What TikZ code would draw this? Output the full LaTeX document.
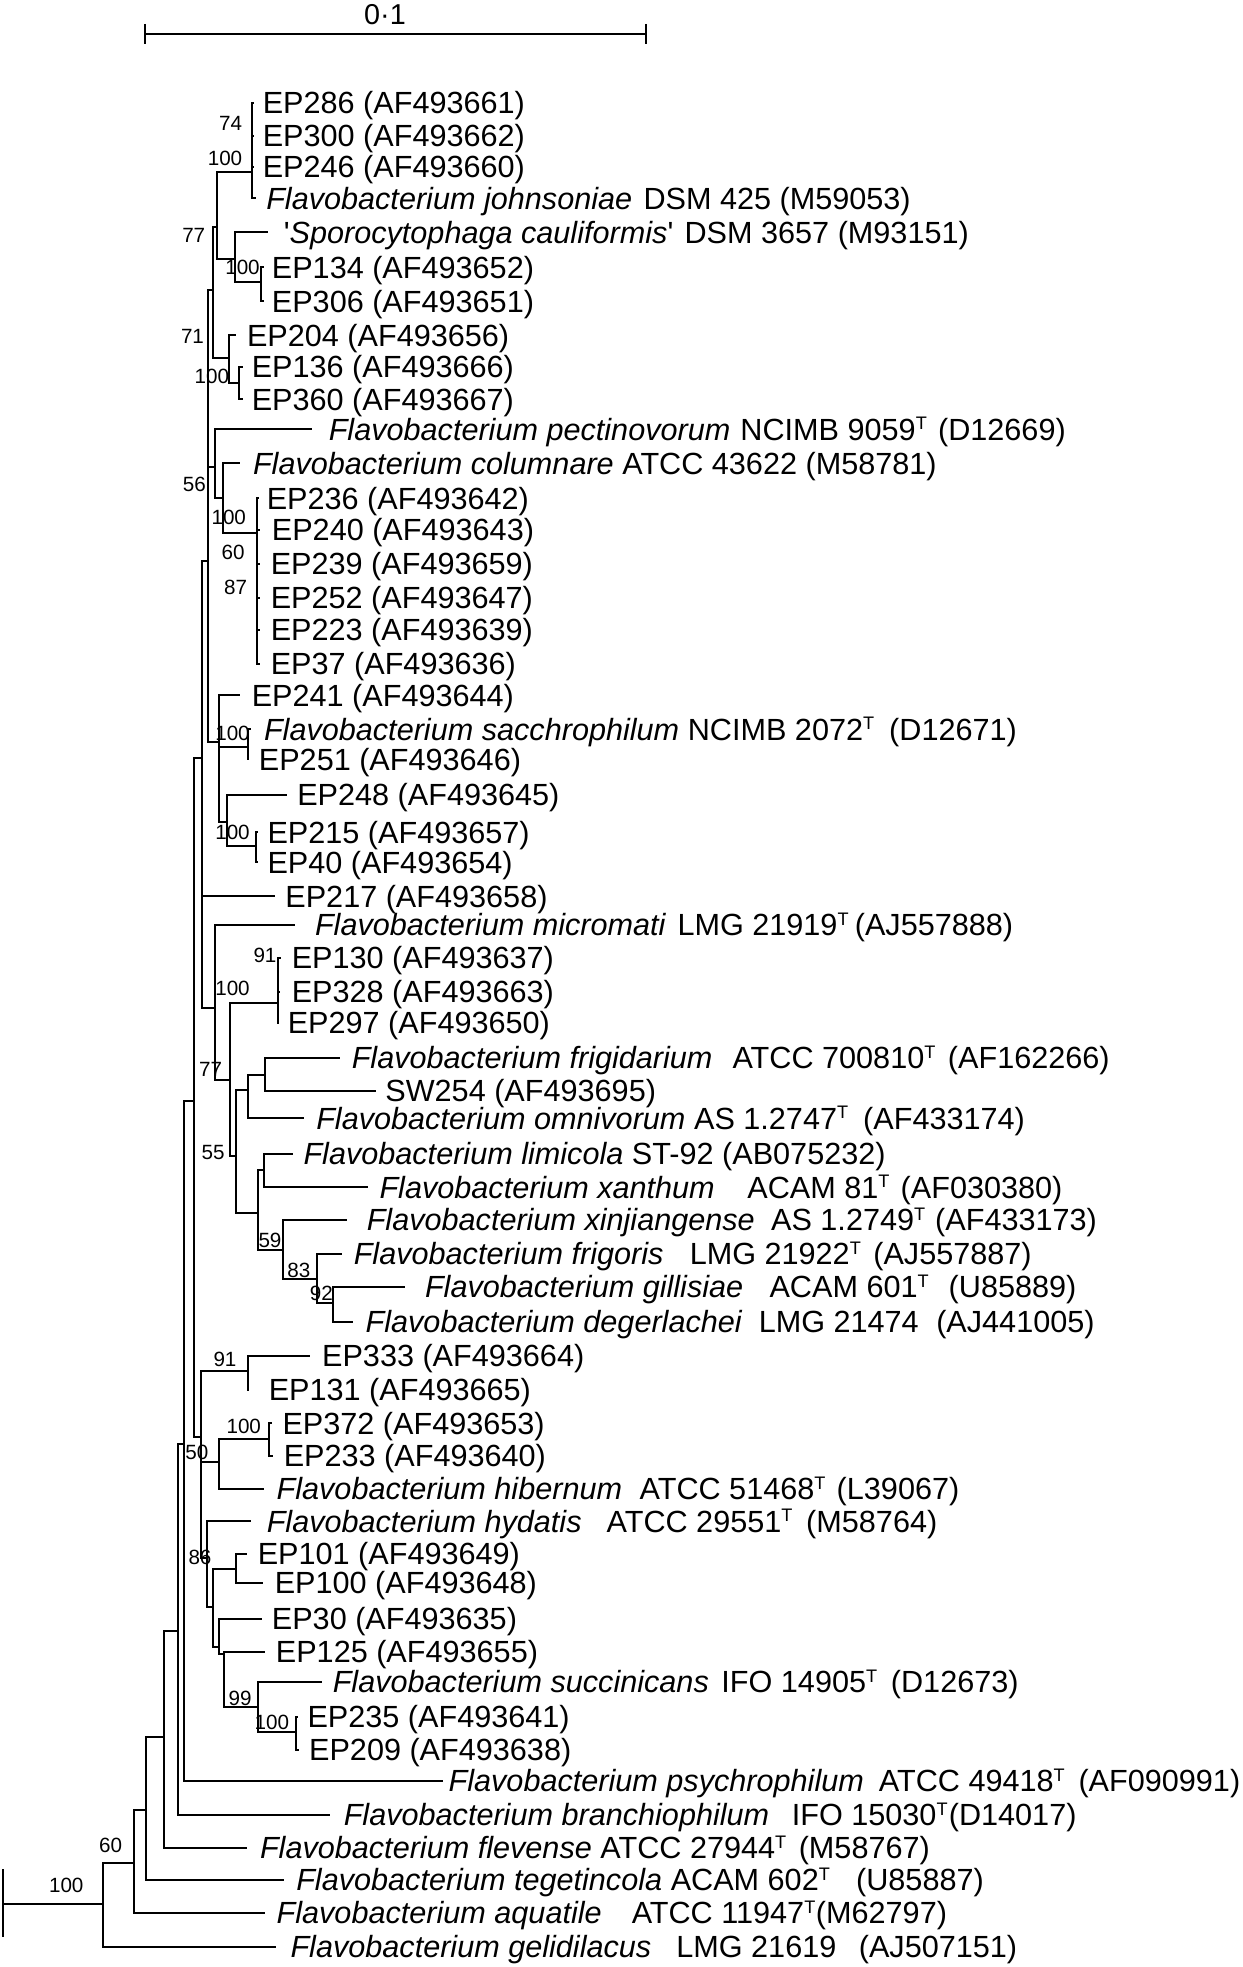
\documentclass[tikz,border=0pt]{standalone}
\usepackage{fontspec}
\setmainfont{Liberation Sans}
\newcommand\supT{\raisebox{8.2pt}{\fontsize{14.5}{14.5}\selectfont T}}
\newcommand\leaf[5]{\coordinate (t#1) at (#2,#3); \node[lab] (l#1) at (#4,#3) {#5};}
\newcommand\edge[2]{\draw (#1) |- (#2);}
\newcommand\bsv[4]{\node[bs] (#1) at (#2,#3) {#4};}
\begin{document}
\begin{tikzpicture}[x=1pt,y=-1pt,line width=1.6pt,
  lab/.style={anchor=west,inner sep=0pt,outer sep=0pt,font=\fontsize{24.5}{28}\selectfont,text height=17.55pt,text depth=0pt},
  bs/.style={inner sep=0pt,outer sep=0pt,font=\fontsize{16.5}{18}\selectfont,text height=11.8pt,text depth=0pt}]
\useasboundingbox (0,0) rectangle (994.4,1573.6);
\begin{scope}[yscale=1.004]
% scale bar
\coordinate (sb1) at (116,27); \coordinate (sb2) at (517,27);
\coordinate (sb1a) at (116,19); \coordinate (sb1b) at (116,35);
\coordinate (sb2a) at (517,19); \coordinate (sb2b) at (517,35);
\draw (sb1) -- (sb2); \draw (sb1a) -- (sb1b); \draw (sb2a) -- (sb2b);
\node[inner sep=0pt,font=\fontsize{23}{25}\selectfont] (sblab) at (308,12) {0·1};

% leaves
\leaf{1}{203.5}{82}{210.2}{EP286 (AF493661)}
\leaf{2}{203.5}{108}{210.2}{EP300 (AF493662)}
\leaf{3}{203.5}{133}{210.2}{EP246 (AF493660)}
\leaf{4}{204.5}{158}{213}{\textit{Flavobacterium johnsoniae}\hspace{9pt}DSM 425 (M59053)}
\leaf{5}{214.4}{185}{227}{\textquotesingle\textit{Sporocytophaga cauliformis}\textquotesingle\hspace{9pt}DSM 3657 (M93151)}
\leaf{6}{211}{213}{217.5}{EP134 (AF493652)}
\leaf{7}{211}{240}{217.5}{EP306 (AF493651)}
\leaf{8}{189}{267}{197.6}{EP204 (AF493656)}
\leaf{9}{194}{292}{201.4}{EP136 (AF493666)}
\leaf{10}{194}{318}{201.4}{EP360 (AF493667)}
\leaf{11}{249.8}{342}{263}{\textit{Flavobacterium pectinovorum}\hspace{8pt}NCIMB 9059\supT\hspace{9pt}(D12669)}
\leaf{12}{191.9}{369}{202.4}{\textit{Flavobacterium columnare} ATCC 43622 (M58781)}
\leaf{13}{207.5}{397}{213.4}{EP236 (AF493642)}
\leaf{14}{208}{422}{217.5}{EP240 (AF493643)}
\leaf{15}{208}{449}{216.6}{EP239 (AF493659)}
\leaf{16}{208}{476}{216.6}{EP252 (AF493647)}
\leaf{17}{208}{502}{216.6}{EP223 (AF493639)}
\leaf{18}{208}{529}{216.6}{EP37 (AF493636)}
\leaf{19}{191.9}{554}{201.4}{EP241 (AF493644)}
\leaf{20}{201}{581}{211.2}{\textit{Flavobacterium sacchrophilum} NCIMB 2072\supT\hspace{12pt}(D12671)}
\leaf{21}{199.5}{605}{207.1}{EP251 (AF493646)}
\leaf{22}{229.2}{633}{237.8}{EP248 (AF493645)}
\leaf{23}{206.5}{663}{214}{EP215 (AF493657)}
\leaf{24}{206.5}{687}{214}{EP40 (AF493654)}
\leaf{25}{219.8}{714}{228.3}{EP217 (AF493658)}
\leaf{26}{235.6}{737}{252}{\textit{Flavobacterium micromati}\hspace{9pt}LMG 21919\supT\hspace{5pt}(AJ557888)}
\leaf{27}{225}{763}{233.4}{EP130 (AF493637)}
\leaf{28}{224}{790}{233.4}{EP328 (AF493663)}
\leaf{29}{223}{815}{230.2}{EP297 (AF493650)}
\leaf{30}{271.9}{843}{281.4}{\textit{Flavobacterium frigidarium}\hspace{16pt}ATCC 700810\supT\hspace{10pt}(AF162266)}
\leaf{31}{300.4}{869}{308.3}{SW254 (AF493695)}
\leaf{32}{243.5}{891}{253}{\textit{Flavobacterium omnivorum} AS 1.2747\supT\hspace{12pt}(AF433174)}
\leaf{33}{234}{919}{242.8}{\textit{Flavobacterium limicola} ST-92 (AB075232)}
\leaf{34}{294}{946}{303.6}{\textit{Flavobacterium xanthum}\hspace{26pt}ACAM 81\supT\hspace{9pt}(AF030380)}
\leaf{35}{277.6}{972}{293.4}{\textit{Flavobacterium xinjiangense}\hspace{13pt}AS 1.2749\supT\hspace{8pt}(AF433173)}
\leaf{36}{273.5}{999}{283}{\textit{Flavobacterium frigoris}\hspace{21pt}LMG 21922\supT\hspace{10pt}(AJ557887)}
\leaf{37}{324.1}{1025}{340}{\textit{Flavobacterium gillisiae}\hspace{21pt}ACAM 601\supT\hspace{16pt}(U85889)}
\leaf{38}{282.4}{1053}{292.5}{\textit{Flavobacterium degerlachei}\hspace{13pt}LMG 21474\hspace{14pt}(AJ441005)}
\leaf{39}{248.2}{1080}{257.7}{EP333 (AF493664)}
\leaf{40}{199.5}{1107}{215}{EP131 (AF493665)}
\leaf{41}{217.5}{1134}{226}{EP372 (AF493653)}
\leaf{42}{218.5}{1160}{227}{EP233 (AF493640)}
\leaf{43}{211}{1186}{221.3}{\textit{Flavobacterium hibernum}\hspace{14pt}ATCC 51468\supT\hspace{9pt}(L39067)}
\leaf{44}{200.8}{1212}{213.4}{\textit{Flavobacterium hydatis}\hspace{20pt}ATCC 29551\supT\hspace{11pt}(M58764)}
\leaf{45}{197.6}{1238}{206.2}{EP101 (AF493649)}
\leaf{46}{210.3}{1261}{219.8}{EP100 (AF493648)}
\leaf{47}{209.3}{1290}{217.5}{EP30 (AF493635)}
\leaf{48}{211.9}{1316}{220.7}{EP125 (AF493655)}
\leaf{49}{257.7}{1340}{266.2}{\textit{Flavobacterium succinicans}\hspace{10pt}IFO 14905\supT\hspace{11pt}(D12673)}
\leaf{50}{238.5}{1368}{246}{EP235 (AF493641)}
\leaf{51}{239}{1394}{247.3}{EP209 (AF493638)}
\leaf{52}{354.1}{1419}{358.9}{\textit{Flavobacterium psychrophilum}\hspace{12pt}ATCC 49418\supT\hspace{11pt}(AF090991)}
\leaf{53}{264}{1446}{275}{\textit{Flavobacterium branchiophilum}\hspace{18pt}IFO 15030\supT\hspace{1pt}(D14017)}
\leaf{54}{197.6}{1472}{208}{\textit{Flavobacterium flevense} ATCC 27944\supT\hspace{10pt}(M58767)}
\leaf{55}{227}{1498}{237}{\textit{Flavobacterium tegetincola} ACAM 602\supT\hspace{21pt}(U85887)}
\leaf{56}{212}{1524}{221.3}{\textit{Flavobacterium aquatile}\hspace{24pt}ATCC 11947\supT\hspace{0.5pt}(M62797)}
\leaf{57}{221}{1551}{232.4}{\textit{Flavobacterium gelidilacus}\hspace{20pt}LMG 21619\hspace{18pt}(AJ507151)}

% internal nodes
\coordinate (A201) at (201.4,137);
\coordinate (S173) at (173.3,181);
\coordinate (SP188) at (188.1,206);
\coordinate (E134) at (208.7,225);
\coordinate (S171) at (170.7,231);
\coordinate (E204) at (183.4,285);
\coordinate (E136) at (191.3,305);
\coordinate (N166) at (166,447);
\coordinate (P172) at (171.7,372);
\coordinate (C179) at (178.6,397);
\coordinate (E236) at (205.5,425);
\coordinate (X175) at (174.9,591);
\coordinate (SA198) at (198.3,595);
\coordinate (E248) at (181.2,655);
\coordinate (E215) at (204.9,674);
\coordinate (X161) at (161.3,604);
\coordinate (M172) at (171.7,803);
\coordinate (Q184) at (184.3,860);
\coordinate (E130) at (222,799);
\coordinate (W189) at (188.8,921);
\coordinate (F198) at (198.3,868);
\coordinate (FS212) at (211.9,856);
\coordinate (L206) at (206.2,966);
\coordinate (LX211) at (211.2,932);
\coordinate (X226) at (226.1,996);
\coordinate (FR254) at (253.9,1019);
\coordinate (G267) at (266.6,1038);
\coordinate (X155) at (155,877);
\coordinate (X160) at (160.5,1145);
\coordinate (E333) at (198.3,1092);
\coordinate (N175) at (174.9,1165);
\coordinate (E372) at (215,1146);
\coordinate (H165) at (165.4,1241);
\coordinate (K171) at (170.7,1280);
\coordinate (E101) at (188.8,1250);
\coordinate (E30) at (175.5,1312);
\coordinate (S179) at (179.3,1318);
\coordinate (SU206) at (206.2,1360);
\coordinate (E235) at (236.5,1380);
\coordinate (PS) at (147,1150);
\coordinate (BR) at (142.3,1299);
\coordinate (FL) at (131.2,1384);
\coordinate (TG) at (117,1442);
\coordinate (AQ) at (106.9,1484);
\coordinate (G82) at (82.2,1517);
\coordinate (root) at (2.5,1517);
\coordinate (rt1) at (2.5,1489);
\coordinate (rt2) at (2.5,1543);

% branches
\edge{A201}{t1}\edge{A201}{t2}\edge{A201}{t3}\edge{A201}{t4}
\edge{S173}{A201}\edge{S173}{SP188}
\edge{SP188}{t5}\edge{SP188}{E134}
\edge{E134}{t6}\edge{E134}{t7}
\edge{S171}{S173}\edge{S171}{E204}
\edge{E204}{t8}\edge{E204}{E136}
\edge{E136}{t9}\edge{E136}{t10}
\edge{N166}{S171}\edge{N166}{P172}\edge{N166}{X175}
\edge{P172}{t11}\edge{P172}{C179}
\edge{C179}{t12}\edge{C179}{E236}
\edge{E236}{t13}\edge{E236}{t14}\edge{E236}{t15}\edge{E236}{t16}\edge{E236}{t17}\edge{E236}{t18}
\edge{X175}{t19}\edge{X175}{SA198}\edge{X175}{E248}
\edge{SA198}{t20}\edge{SA198}{t21}
\edge{E248}{t22}\edge{E248}{E215}
\edge{E215}{t23}\edge{E215}{t24}
\edge{X161}{N166}\edge{X161}{t25}\edge{X161}{M172}
\edge{M172}{t26}\edge{M172}{Q184}
\edge{Q184}{E130}\edge{Q184}{W189}
\edge{E130}{t27}\edge{E130}{t28}\edge{E130}{t29}
\edge{W189}{F198}\edge{W189}{L206}
\edge{F198}{FS212}\edge{F198}{t32}
\edge{FS212}{t30}\edge{FS212}{t31}
\edge{L206}{LX211}\edge{L206}{X226}
\edge{LX211}{t33}\edge{LX211}{t34}
\edge{X226}{t35}\edge{X226}{FR254}
\edge{FR254}{t36}\edge{FR254}{G267}
\edge{G267}{t37}\edge{G267}{t38}
\edge{X155}{X161}\edge{X155}{X160}
\edge{X160}{E333}\edge{X160}{N175}\edge{X160}{H165}
\edge{E333}{t39}\edge{E333}{t40}
\edge{N175}{E372}\edge{N175}{t43}
\edge{E372}{t41}\edge{E372}{t42}
\edge{H165}{t44}\edge{H165}{K171}
\edge{K171}{E101}\edge{K171}{E30}
\edge{E101}{t45}\edge{E101}{t46}
\edge{E30}{t47}\edge{E30}{S179}
\edge{S179}{t48}\edge{S179}{SU206}
\edge{SU206}{t49}\edge{SU206}{E235}
\edge{E235}{t50}\edge{E235}{t51}
\edge{PS}{X155}\edge{PS}{t52}
\edge{BR}{PS}\edge{BR}{t53}
\edge{FL}{BR}\edge{FL}{t54}
\edge{TG}{FL}\edge{TG}{t55}
\edge{AQ}{TG}\edge{AQ}{t56}
\edge{G82}{AQ}\edge{G82}{t57}
\draw (root) -- (G82);
\draw (rt1) -- (rt2);

% bootstrap values
\bsv{b1}{184.5}{98}{74}
\bsv{b2}{180}{126}{100}
\bsv{b3}{155}{187}{77}
\bsv{b4}{194}{213}{100}
\bsv{b5}{154}{268}{71}
\bsv{b6}{169.5}{300}{100}
\bsv{b7}{155.5}{386}{56}
\bsv{b8}{183}{412}{100}
\bsv{b9}{186.5}{440}{60}
\bsv{b10}{188.5}{468}{87}
\bsv{b11}{186}{584}{100}
\bsv{b12}{186}{663}{100}
\bsv{b13}{212}{761}{91}
\bsv{b14}{186}{787}{100}
\bsv{b15}{168.5}{852}{77}
\bsv{b16}{170.5}{918}{55}
\bsv{b17}{216}{988}{59}
\bsv{b18}{239}{1012}{83}
\bsv{b19}{257}{1030}{92}
\bsv{b20}{180}{1083}{91}
\bsv{b21}{195}{1136}{100}
\bsv{b22}{157.5}{1157}{50}
\bsv{b23}{160}{1241}{86}
\bsv{b24}{192}{1353}{99}
\bsv{b25}{217.5}{1372}{100}
\bsv{b26}{88.5}{1470}{60}
\bsv{b27}{53}{1502}{100}
\end{scope}
\end{tikzpicture}
\end{document}
